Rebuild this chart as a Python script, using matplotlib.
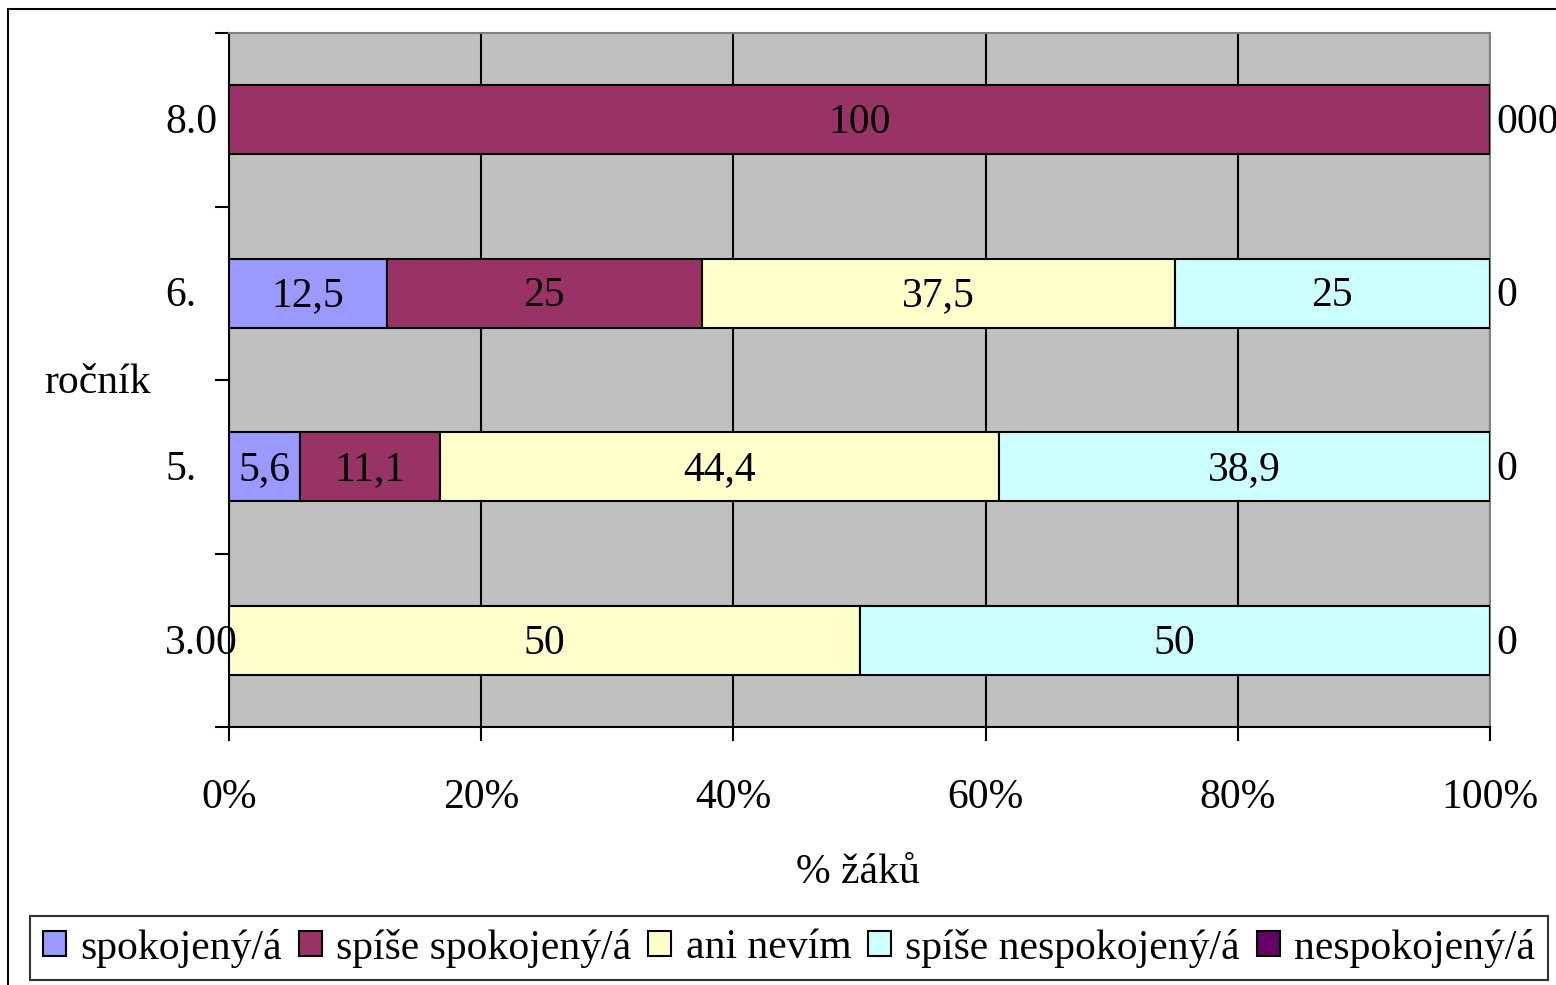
import matplotlib
matplotlib.use("Agg")
import matplotlib.pyplot as plt
from matplotlib.patches import Rectangle
from matplotlib.transforms import ScaledTranslation
import numpy as np

plt.rcParams['font.family'] = ['Liberation Serif', 'DejaVu Serif']

# Data (bottom to top)
categories = ["3.", "5.", "6.", "8."]
tick_labels = ["3.00", "5.", "6.", "8.0"]
series_names = ["spokojený/á", "spíše spokojený/á", "ani nevím",
                "spíše nespokojený/á", "nespokojený/á"]
spokojeny = [0, 5.6, 12.5, 0]
spise_spokojeny = [0, 11.1, 25, 100]
ani_nevim = [50, 44.4, 37.5, 0]
spise_nespokojeny = [50, 38.9, 25, 0]
nespokojeny = [0, 0, 0, 0]
right_labels = ["0", "0", "0", "000"]
colors = ["#9999FF", "#993366", "#FFFFCC", "#CCFFFF", "#660066"]

series = [spokojeny, spise_spokojeny, ani_nevim, spise_nespokojeny, nespokojeny]

W, H = 1556, 985
fig = plt.figure(figsize=(W / 100, H / 100), dpi=100)
FS = 30
down = ScaledTranslation(0, -3 / 100, fig.dpi_scale_trans)

# outer border
fig.patches.append(Rectangle((8 / W, -0.05), 1.1, 1 - 9 / H + 0.05,
                             transform=fig.transFigure, fill=False,
                             edgecolor='black', linewidth=1.5, zorder=0))

ax = fig.add_axes([229 / W, 1 - 727 / H, (1490 - 229) / W, (727 - 33) / H])
ax.set_facecolor('#C0C0C0')

y = np.arange(len(categories))
left = np.zeros(len(categories))
for name, vals, c in zip(series_names, series, colors):
    vals = np.array(vals, dtype=float)
    ax.barh(y, vals, left=left, height=0.4, color=c, edgecolor='black',
            linewidth=1.5, label=name, zorder=3)
    for yi, (l, v) in enumerate(zip(left, vals)):
        if v > 0:
            ax.text(l + v / 2, yi, f"{v:g}".replace('.', ','), ha='center',
                    va='center', fontsize=FS, zorder=4,
                    transform=ax.transData + down)
    left = left + vals

ax.set_xlim(0, 100)
ax.set_ylim(-0.5, len(categories) - 0.5)
ax.set_xticks(np.arange(0, 101, 20))
ax.set_xticklabels([f"{v}%" for v in range(0, 101, 20)], fontsize=FS)
ax.xaxis.grid(True, color='black', linewidth=1.5, zorder=1)
ax.set_axisbelow(True)
ax.set_yticks(np.arange(-0.5, len(categories), 1.0))
ax.set_yticklabels([])
ax.tick_params(axis='y', length=10, width=1.5, direction='out')
ax.tick_params(axis='x', length=10, width=1.5, direction='out', pad=27)

for yi, t in enumerate(tick_labels):
    ax.text(-64 / (1490 - 229) * 100, yi, t, ha='left', va='center',
            fontsize=FS, clip_on=False, transform=ax.transData + down)
for yi, t in enumerate(right_labels):
    ax.text(100 + 6 / (1490 - 229) * 100, yi, t, ha='left', va='center',
            fontsize=FS, clip_on=False, transform=ax.transData + down)

for s in ['left', 'bottom']:
    ax.spines[s].set_color('black')
    ax.spines[s].set_linewidth(1.5)
for s in ['top', 'right']:
    ax.spines[s].set_color('#808080')
    ax.spines[s].set_linewidth(1.5)

fig.text(858 / W, 1 - 873 / H, "% žáků", ha='center', va='center', fontsize=FS)
fig.text(97 / W, 1 - 383 / H, "ročník", ha='center', va='center', fontsize=FS)

leg = fig.legend(loc='center', bbox_to_anchor=(789 / W, 1 - 948 / H), ncol=5,
                 fontsize=FS, frameon=True, fancybox=False, edgecolor='black',
                 handlelength=0.55, handleheight=0.55, handletextpad=0.35,
                 columnspacing=0.4, borderpad=0.3, borderaxespad=0)
leg.get_frame().set_linewidth(1.5)

fig.savefig("out.png", dpi=100, facecolor='white')
